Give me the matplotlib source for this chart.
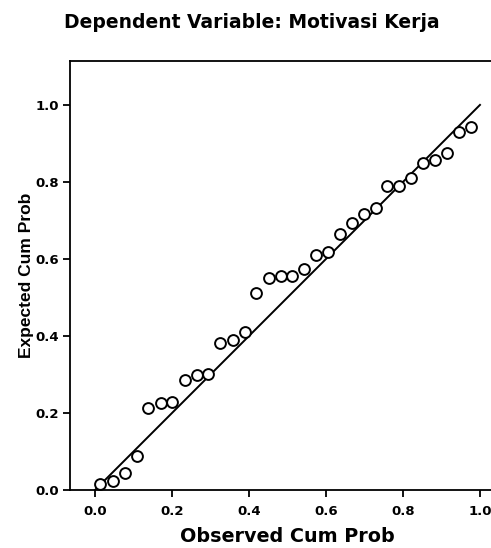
import matplotlib
matplotlib.use("Agg")
import matplotlib.pyplot as plt

observed = [0.013, 0.047, 0.078, 0.109, 0.138, 0.171, 0.200, 0.234, 0.265, 0.294,
            0.325, 0.358, 0.390, 0.418, 0.452, 0.483, 0.512, 0.543, 0.574, 0.605,
            0.636, 0.668, 0.699, 0.730, 0.758, 0.790, 0.820, 0.852, 0.883, 0.914,
            0.945, 0.977]
expected = [0.016, 0.023, 0.044, 0.088, 0.213, 0.225, 0.228, 0.286, 0.299, 0.301,
            0.383, 0.390, 0.410, 0.512, 0.551, 0.556, 0.556, 0.574, 0.611, 0.618,
            0.664, 0.693, 0.717, 0.732, 0.790, 0.790, 0.810, 0.848, 0.857, 0.875,
            0.930, 0.943]
ref_line = [0.0, 1.0]
ticks = [0.0, 0.2, 0.4, 0.6, 0.8, 1.0]
tick_labels = ["0.0", "0.2", "0.4", "0.6", "0.8", "1.0"]

plt.rcParams['font.family'] = ['DejaVu Sans']

fig = plt.figure(figsize=(4.91, 5.48), dpi=100)
ax = fig.add_axes([70/491, 58/548, (505-70)/491, (490-61)/548])

ax.plot(ref_line, ref_line, color='black', lw=1.4, zorder=2)
ax.plot(observed, expected, linestyle='none', marker='o', markersize=7.8,
        markerfacecolor='white', markeredgecolor='black', markeredgewidth=1.4, zorder=3)

ax.set_xlim(-0.065, 1.065)
ax.set_ylim(0.0, 1.114)
ax.set_xticks(ticks)
ax.set_xticklabels(tick_labels)
ax.set_yticks(ticks)
ax.set_yticklabels(tick_labels)
ax.tick_params(direction='out', length=5, width=1.3, labelsize=9.5, pad=3)
ax.tick_params(axis='x', pad=6)
for lab in ax.get_xticklabels() + ax.get_yticklabels():
    lab.set_fontweight('bold')
for s in ax.spines.values():
    s.set_linewidth(1.3)

ax.set_xlabel("Observed Cum Prob", fontsize=13.8, fontweight='bold', labelpad=6)
ax.set_ylabel("Expected Cum Prob", fontsize=12.5, fontweight='bold', labelpad=1,
              family=['Liberation Sans', 'DejaVu Sans'])
fig.text(252/491, 1 - 22/548, "Dependent Variable: Motivasi Kerja", ha='center', va='center',
         fontsize=13.5, fontweight='bold')

fig.savefig("out.png", dpi=100)
